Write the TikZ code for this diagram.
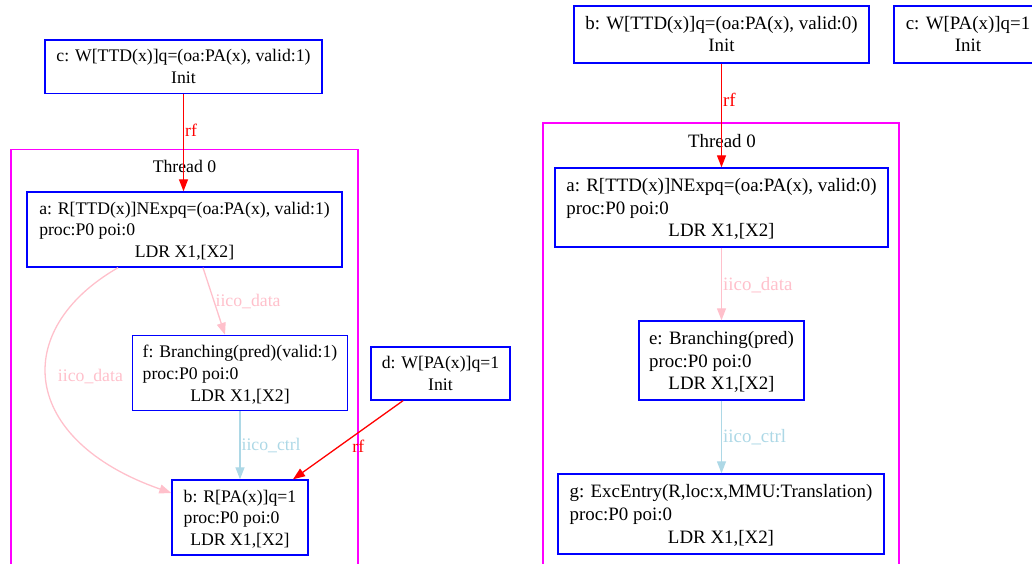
\documentclass[tikz,border=0pt]{standalone}
\usepackage{fontspec}
\setmainfont{Liberation Serif}
\usetikzlibrary{arrows.meta}
\definecolor{gvpink}{HTML}{FFC0CB}
\definecolor{gvlblue}{HTML}{ADD8E6}
\definecolor{gvmag}{HTML}{FF00FF}
\definecolor{gvblue}{HTML}{0000FF}
\newcommand{\evtext}[3]{\raisebox{-2pt}[\height][\depth]{\begin{tabular}{@{}l@{}}#1\\#2\\\multicolumn{1}{@{}c@{}}{#3}\end{tabular}}}
\newcommand{\inittext}[1]{\raisebox{-1.5pt}[\height][\depth]{\begin{tabular}{@{}c@{}}#1\\Init\end{tabular}}}
\begin{document}
\begin{tikzpicture}[x=1pt,y=-1pt,
  evbox/.style={draw=gvblue, line width=1.4pt, rectangle, inner sep=0pt},
  leftfont/.style={every node/.append style={font=\fontsize{17.7}{21.7}\selectfont}},
  rightfont/.style={every node/.append style={font=\fontsize{18.9}{22.6}\selectfont}},
  cluster/.style={draw=gvmag, line width=1.3pt},
  arr/.style={-{Triangle[length=12pt,width=9pt]}, line width=1.3pt},
  rfedge/.style={arr, red},
  dataedge/.style={arr, gvpink},
  ctrledge/.style={arr, gvlblue},
  elab/.style={inner sep=1pt, anchor=west},
]
\clip (0,0) rectangle (1032,564);
% ---------- left graph ----------
\begin{scope}[leftfont]
\draw[cluster] (11,149.5) rectangle (358,600);
\node (thl) at (184.5,166) {Thread 0};
\node[evbox, minimum width=277pt, minimum height=53.5pt] (lc) at (183.5,66.75)
  {\inittext{c: W[TTD(x)]q=(oa:PA(x), valid:1)}};
\node[evbox, minimum width=315pt, minimum height=75pt] (la) at (184.5,229.5)
  {\evtext{a: R[TTD(x)]NExpq=(oa:PA(x), valid:1)}{proc:P0 poi:0}{LDR X1,[X2]}};
\node[evbox, minimum width=215pt, minimum height=75pt] (lf) at (240,373)
  {\evtext{f: Branching(pred)(valid:1)}{proc:P0 poi:0}{LDR X1,[X2]}};
\node[evbox, minimum width=136pt, minimum height=75pt] (lb) at (240,517.5)
  {\evtext{b: R[PA(x)]q=1}{proc:P0 poi:0}{LDR X1,[X2]}};
\node[evbox, minimum width=139pt, minimum height=53pt] (ld) at (440.5,373.5)
  {\inittext{d: W[PA(x)]q=1}};
\draw[rfedge] (lc.south) -- (lc.south |- la.north) node[elab, pos=0.37] {rf};
\draw[dataedge] ([xshift=18.5pt]la.south) -- ([xshift=-15pt]lf.north)
  node[elab, pos=0.5] {iico\_data};
\draw[dataedge] ([xshift=-66.5pt]la.south) .. controls (10,330) and (20,440) .. ([yshift=24.5pt]lb.west)
  node[elab, pos=0.47, xshift=10pt] {iico\_data};
\draw[ctrledge] (lf.south) -- (lb.north) node[elab, pos=0.51] {iico\_ctrl};
\draw[rfedge] ([xshift=-37.5pt]ld.south) -- ([xshift=53pt]lb.north)
  node[elab, pos=0.575, xshift=11pt] {rf};
\end{scope}
% ---------- right graph ----------
\begin{scope}[rightfont]
\draw[cluster] (543,123) rectangle (899,600);
\node (thr) at (722,141) {Thread 0};
\node[evbox, minimum width=295pt, minimum height=57pt] (rb) at (721.5,34.5)
  {\inittext{b: W[TTD(x)]q=(oa:PA(x), valid:0)}};
\node[evbox, minimum width=148pt, minimum height=57pt] (rc) at (968,34.5)
  {\inittext{c: W[PA(x)]q=1}};
\node[evbox, minimum width=333pt, minimum height=79pt] (ra) at (721.5,207.5)
  {\evtext{a: R[TTD(x)]NExpq=(oa:PA(x), valid:0)}{proc:P0 poi:0}{LDR X1,[X2]}};
\node[evbox, minimum width=165pt, minimum height=79pt] (re) at (721.5,360.5)
  {\evtext{e: Branching(pred)}{proc:P0 poi:0}{LDR X1,[X2]}};
\node[evbox, minimum width=326pt, minimum height=80pt] (rg) at (721,514)
  {\evtext{g: ExcEntry(R,loc:x,MMU:Translation)}{proc:P0 poi:0}{LDR X1,[X2]}};
\draw[rfedge] (rb.south) -- (ra.north) node[elab, pos=0.35] {rf};
\draw[dataedge] (ra.south) -- (re.north) node[elab, pos=0.51] {iico\_data};
\draw[ctrledge] (re.south) -- (re.south |- rg.north) node[elab, pos=0.5] {iico\_ctrl};
\end{scope}
\end{tikzpicture}
\end{document}
